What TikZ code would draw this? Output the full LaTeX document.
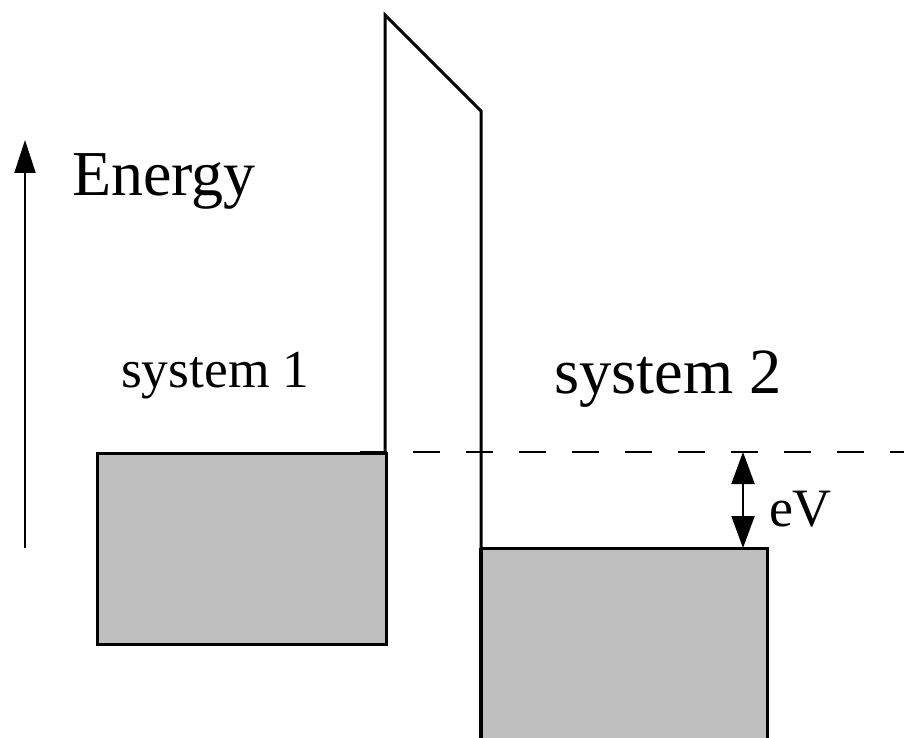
\documentclass[tikz,border=0pt]{standalone}
\usepackage{fontspec}
\setmainfont{Liberation Serif}
\usetikzlibrary{arrows.meta}
\definecolor{boxgray}{HTML}{BFBFBF}
\tikzset{
  band/.style={fill=boxgray,draw=black,line width=3pt},
  wall/.style={draw=black,line width=3pt,line join=miter},
  fermi/.style={draw=black,line width=2.5pt,dash pattern=on 27pt off 26pt},
  axisarrow/.style={line width=2pt,-{Triangle[width=21pt,length=33pt]}},
  evarrow/.style={line width=2pt,{Triangle[width=23pt,length=32pt]}-{Triangle[width=23pt,length=32pt]}},
  lbl/.style={anchor=base west,inner sep=0pt,outer sep=0pt}
}
\begin{document}
\begin{tikzpicture}[x=1pt,y=-1pt]
\useasboundingbox (0,0) rectangle (904,738);
% bands
\node[band,minimum width=289pt,minimum height=191pt,inner sep=0pt,anchor=north west] (band1) at (96,452) {};
\fill[boxgray] (481,548) rectangle (767,745);
\coordinate (b2tl) at (481,548);
\coordinate (b2tr) at (767,548);
\coordinate (b2br) at (767,745);
\draw[wall] (b2tl) -- (b2tr) -- (b2br);
% barrier
\coordinate (w1b) at (385,452);
\coordinate (w1t) at (385,15);
\coordinate (w2t) at (481,111);
\coordinate (w2b) at (481,745);
\draw[wall] (w1b) -- (w1t) -- (w2t) -- (w2b);
\draw[draw=black,line width=4pt] (481,548) -- (481,745);
% fermi level
\coordinate (f1) at (360,452);
\coordinate (f2) at (904,452);
\draw[fermi] (f1) -- (f2);
% energy axis
\coordinate (ax0) at (25,548);
\coordinate (ax1) at (25,140);
\draw[axisarrow] (ax0) -- (ax1);
% eV arrow
\coordinate (ev1) at (743,452);
\coordinate (ev2) at (743,548);
\draw[evarrow] (ev1) -- (ev2);
% labels
\node[lbl,font=\fontsize{64}{64}\selectfont] (energy) at (72,195) {Energy};
\node[lbl,font=\fontsize{53.5}{53.5}\selectfont] (sys1) at (121,387) {system 1};
\node[lbl,font=\fontsize{64.5}{64.5}\selectfont] (sys2) at (554,393) {system 2};
\node[lbl,font=\fontsize{54}{54}\selectfont] (ev) at (769,526) {eV};
\end{tikzpicture}
\end{document}
